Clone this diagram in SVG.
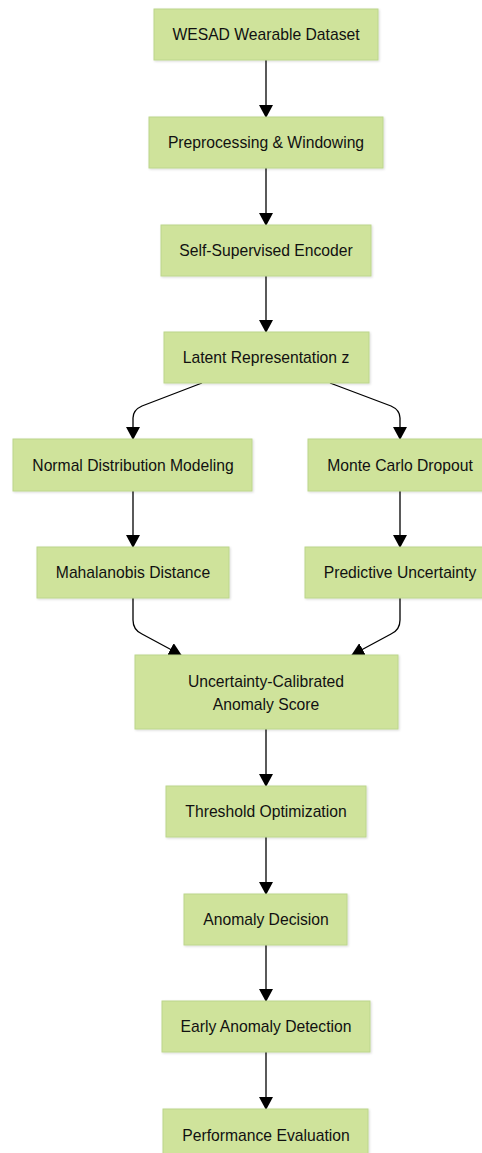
<svg xmlns="http://www.w3.org/2000/svg" width="482" height="1153" viewBox="0 0 482 1153">
<defs>
<marker id="ah" markerWidth="13" markerHeight="14" refX="12" refY="7" orient="auto" markerUnits="userSpaceOnUse">
<path d="M0,0 L13,7 L0,14 Z" fill="#000"/>
</marker>
<filter id="sh" x="-10%" y="-10%" width="120%" height="130%">
<feDropShadow dx="1" dy="1" stdDeviation="1" flood-color="#000" flood-opacity="0.15"/>
</filter>
</defs>
<style>
.n rect{fill:#cfe39b;stroke:#bcd68c;stroke-width:1;filter:url(#sh)}
.n text{font-family:"Liberation Sans",Arial,sans-serif;font-size:15.7px;fill:#111;text-anchor:middle;dominant-baseline:central}
.c path{fill:none;stroke:#000;stroke-width:1.3;marker-end:url(#ah)}
</style>
<rect width="482" height="1153" fill="#fff"/>
<g class="c">
<path d="M266,60 L266,117"/>
<path d="M266,168 L266,225"/>
<path d="M266,276 L266,332"/>
<path d="M202,383 L142,406 Q133,410 133,418 L133,439"/>
<path d="M330,383 L391,406 Q400,410 400,418 L400,439"/>
<path d="M133,491 L133,547"/>
<path d="M400,491 L400,547"/>
<path d="M133,598 L133,620 Q133,630 142,634 L181,655"/>
<path d="M400,598 L400,620 Q400,630 391,634 L352,655"/>
<path d="M266,729 L266,786"/>
<path d="M266,837 L266,894"/>
<path d="M266,945 L266,1001"/>
<path d="M266,1052 L266,1109"/>
</g>
<g id="n1" class="n"><rect x="154" y="9" width="224" height="51"/><text x="266" y="34.5">WESAD Wearable Dataset</text></g>
<g id="n2" class="n"><rect x="149" y="117" width="234" height="51"/><text x="266" y="142.5">Preprocessing &amp; Windowing</text></g>
<g id="n3" class="n"><rect x="161" y="225" width="210" height="51"/><text x="266" y="250.5">Self-Supervised Encoder</text></g>
<g id="n4" class="n"><rect x="164" y="332" width="205" height="51"/><text x="266" y="357.5">Latent Representation z</text></g>
<g id="n5" class="n"><rect x="13" y="439" width="239" height="52"/><text x="133" y="465">Normal Distribution Modeling</text></g>
<g id="n6" class="n"><rect x="308" y="439" width="184" height="52"/><text x="400" y="465">Monte Carlo Dropout</text></g>
<g id="n7" class="n"><rect x="37" y="547" width="192" height="51"/><text x="133" y="572.5">Mahalanobis Distance</text></g>
<g id="n8" class="n"><rect x="305" y="547" width="190" height="51"/><text x="400" y="572.5">Predictive Uncertainty</text></g>
<g id="n9" class="n"><rect x="135" y="655" width="263" height="74"/><text x="266" y="681">Uncertainty-Calibrated</text><text x="266" y="704">Anomaly Score</text></g>
<g id="n10" class="n"><rect x="166" y="786" width="200" height="51"/><text x="266" y="811.5">Threshold Optimization</text></g>
<g id="n11" class="n"><rect x="184" y="894" width="163" height="51"/><text x="266" y="919.5">Anomaly Decision</text></g>
<g id="n12" class="n"><rect x="162" y="1001" width="208" height="51"/><text x="266" y="1026.5">Early Anomaly Detection</text></g>
<g id="n13" class="n"><rect x="163" y="1109" width="205" height="51"/><text x="266" y="1135">Performance Evaluation</text></g>
</svg>
